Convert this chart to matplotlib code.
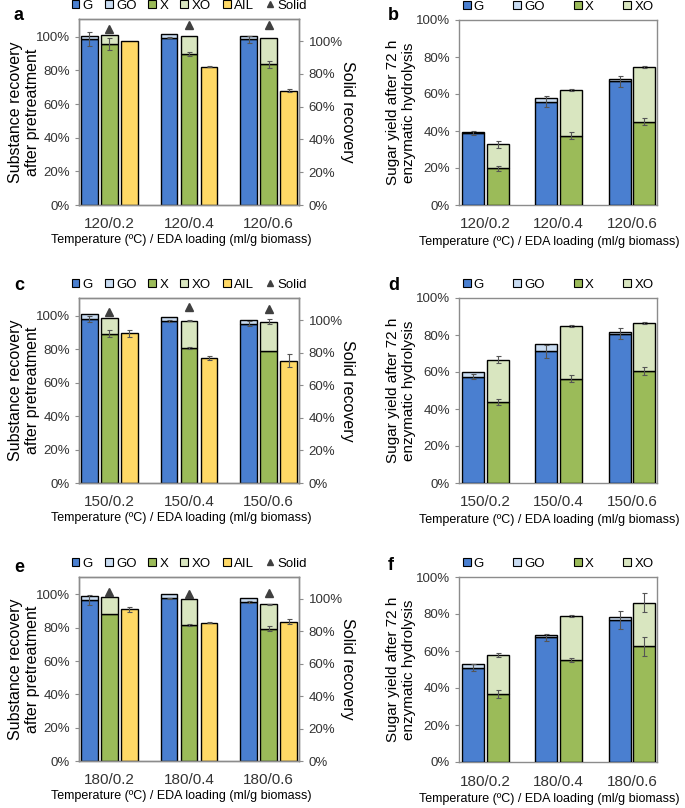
import numpy as np
import matplotlib.pyplot as plt
from matplotlib.patches import Patch
from matplotlib.lines import Line2D
from matplotlib.ticker import PercentFormatter

plt.rcParams['font.family'] = ['Liberation Sans', 'DejaVu Sans']

# colours
C_G = '#4a7fd0'
C_GO = '#c9dcf2'
C_X = '#9bbb59'
C_XO = '#d9e6c0'
C_AIL = '#ffd966'

XLABEL = 'Temperature (ºC) / EDA loading (ml/g biomass)'

# ---- pretreatment recovery (panels a, c, e) ----
cats_120 = ['120/0.2', '120/0.4', '120/0.6']
cats_150 = ['150/0.2', '150/0.4', '150/0.6']
cats_180 = ['180/0.2', '180/0.4', '180/0.6']

rec_G_120 = [98.5, 99.4, 98.5]
rec_GO_120 = [1.9, 2.4, 2.1]
rec_X_120 = [95.7, 89.7, 83.6]
rec_XO_120 = [5.3, 10.7, 15.4]
rec_AIL_120 = [97.6, 82.0, 67.9]
solid_120 = [107.6, 109.8, 110.0]
rec_errG_120 = [4, 0.3, 2]
rec_errX_120 = [3.5, 1, 2]
rec_errXO_120 = [0, 0, 0]
rec_errAIL_120 = [0, 0.3, 1]

rec_G_150 = [98.0, 96.6, 95.0]
rec_GO_150 = [2.8, 2.4, 2.4]
rec_X_150 = [89.1, 80.8, 78.8]
rec_XO_150 = [9.7, 16.2, 17.6]
rec_AIL_150 = [89.3, 74.7, 73.1]
solid_150 = [105.1, 107.9, 106.5]
rec_errG_150 = [2, 0.5, 1.5]
rec_errX_150 = [2, 0.5, 0]
rec_errXO_150 = [0, 0.5, 1.5]
rec_errAIL_150 = [2, 1, 4]

rec_G_180 = [96.6, 97.6, 95.4]
rec_GO_180 = [2.2, 2.4, 2.2]
rec_X_180 = [88.0, 81.7, 79.3]
rec_XO_180 = [10.4, 15.5, 14.7]
rec_AIL_180 = [91.2, 83.1, 83.5]
solid_180 = [104.5, 103.1, 103.5]
rec_errG_180 = [3, 0.5, 0.5]
rec_errX_180 = [0, 0.5, 1.5]
rec_errXO_180 = [0, 0, 0.5]
rec_errAIL_180 = [1.5, 0.5, 1.5]

# ---- sugar yield (panels b, d, f) ----
yld_G_120 = [39.1, 55.9, 67.0]
yld_GO_120 = [0.3, 2.1, 0.9]
yld_X_120 = [19.8, 37.5, 45.0]
yld_XO_120 = [13.0, 24.5, 29.6]
yld_errG_120 = [1, 3, 3]
yld_errX_120 = [1.5, 2, 2]
yld_errXO_120 = [2, 0.5, 0.5]

yld_G_150 = [57.5, 71.1, 80.8]
yld_GO_150 = [2.5, 4.1, 0.6]
yld_X_150 = [43.9, 56.4, 60.6]
yld_XO_150 = [22.8, 28.6, 25.8]
yld_errG_150 = [1.5, 3.5, 3]
yld_errX_150 = [1.5, 2, 2]
yld_errXO_150 = [2, 0.5, 0.5]

yld_G_180 = [51.0, 67.4, 76.8]
yld_GO_180 = [1.8, 1.2, 1.6]
yld_X_180 = [36.8, 55.1, 62.5]
yld_XO_180 = [21.0, 23.6, 23.6]
yld_errG_180 = [2, 2, 5]
yld_errX_180 = [2, 1, 5]
yld_errXO_180 = [1, 0.5, 5]

W, H = 685, 808
fig = plt.figure(figsize=(W / 100, H / 100), dpi=100)


def px_axes(x0, y0, x1, y1):
    return fig.add_axes([x0 / W, 1 - y1 / H, (x1 - x0) / W, (y1 - y0) / H])


def style_axes(ax):
    for s in ax.spines.values():
        s.set_color('#8c8c8c')
        s.set_linewidth(1.0)
    ax.tick_params(axis='both', colors='#8c8c8c', labelcolor='#333333',
                   labelsize=9.5, length=3, width=0.8)
    ax.tick_params(axis='x', length=0, labelsize=11, pad=9)


def errs(ax, x, top, err):
    e = np.array(err, dtype=float)
    m = e > 0
    if m.any():
        ax.errorbar(np.asarray(x)[m], np.asarray(top)[m], yerr=e[m], fmt='none',
                    ecolor='#555555', elinewidth=0.8, capsize=1.8, capthick=0.8, zorder=5)


def recovery_panel(y0, y1, letter, ly, cats, G, GO, X, XO, AIL, solid,
                   eG, eX, eXO, eAIL):
    ax = px_axes(79, y0, 299, y1)
    x = np.arange(len(cats))
    w, d = 0.21, 0.25
    G, GO, X, XO, AIL = map(np.array, (G, GO, X, XO, AIL))
    kw = dict(width=w, edgecolor='black', linewidth=1.0, zorder=3)
    ax.bar(x - d, G, color=C_G, **kw)
    ax.bar(x - d, GO, bottom=G, color=C_GO, **kw)
    ax.bar(x, X, color=C_X, **kw)
    ax.bar(x, XO, bottom=X, color=C_XO, **kw)
    ax.bar(x + d, AIL, color=C_AIL, **kw)
    errs(ax, x - d, G, eG)
    errs(ax, x, X, eX)
    errs(ax, x, X + XO, eXO)
    errs(ax, x + d, AIL, eAIL)
    ax.set_xlim(-0.38, 2.38)
    ax.set_ylim(0, 110.5)
    ax.set_yticks(np.arange(0, 101, 20))
    ax.yaxis.set_major_formatter(PercentFormatter(decimals=0))
    ax.set_xticks(x)
    ax.set_xticklabels(cats)
    style_axes(ax)
    ax.set_ylabel('Substance recovery\nafter pretreatment', fontsize=11.5)
    ax.yaxis.set_label_coords(-0.175, 0.5)
    ax.set_xlabel(XLABEL, fontsize=9)
    ax.xaxis.set_label_coords(0.464, -0.155)

    ax2 = ax.twinx()
    ax2.plot(x, solid, linestyle='none', marker='^', markersize=6,
             color='#404040', zorder=6)
    ax2.set_ylim(0, 113.5)
    ax2.set_yticks(np.arange(0, 101, 20))
    ax2.yaxis.set_major_formatter(PercentFormatter(decimals=0))
    style_axes(ax2)
    ax2.tick_params(axis='y', labelsize=9.5, pad=4)
    ax2.set_ylabel('Solid recovery', fontsize=11.5, rotation=270, labelpad=9)

    handles = [Patch(facecolor=c, edgecolor='black', linewidth=0.8)
               for c in (C_G, C_GO, C_X, C_XO, C_AIL)]
    handles.append(Line2D([], [], linestyle='none', marker='^', color='#404040',
                          markersize=5))
    ax.legend(handles, ['G', 'GO', 'X', 'XO', 'AIL', 'Solid'], ncol=6,
              loc='lower center', bbox_to_anchor=(0.5, 1.0), frameon=False,
              fontsize=9.5, handlelength=0.6, handleheight=0.6,
              handletextpad=0.25, columnspacing=0.9, borderaxespad=0.15)
    fig.text(14 / W, 1 - ly / H, letter, fontsize=13, fontweight='bold',
             ha='left', va='center')


def yield_panel(y0, y1, letter, ly, cats, G, GO, X, XO, eG, eX, eXO):
    ax = px_axes(459, y0, 657, y1)
    x = np.arange(len(cats))
    w, d = 0.30, 0.167
    G, GO, X, XO = map(np.array, (G, GO, X, XO))
    kw = dict(width=w, edgecolor='black', linewidth=1.0, zorder=3)
    ax.bar(x - d, G, color=C_G, **kw)
    ax.bar(x - d, GO, bottom=G, color=C_GO, **kw)
    ax.bar(x + d, X, color=C_X, **kw)
    ax.bar(x + d, XO, bottom=X, color=C_XO, **kw)
    errs(ax, x - d, G, eG)
    errs(ax, x + d, X, eX)
    errs(ax, x + d, X + XO, eXO)
    ax.set_xlim(-0.36, 2.34)
    ax.set_ylim(0, 100)
    ax.set_yticks(np.arange(0, 101, 20))
    ax.yaxis.set_major_formatter(PercentFormatter(decimals=0))
    ax.set_xticks(x)
    ax.set_xticklabels(cats)
    style_axes(ax)
    ax.set_ylabel('Sugar yield after 72 h\nenzymatic hydrolysis', fontsize=11)
    ax.yaxis.set_label_coords(-0.215, 0.5)
    ax.set_xlabel(XLABEL, fontsize=9)
    ax.xaxis.set_label_coords(0.455, -0.165)
    handles = [Patch(facecolor=c, edgecolor='black', linewidth=0.8)
               for c in (C_G, C_GO, C_X, C_XO)]
    ax.legend(handles, ['G', 'GO', 'X', 'XO'], ncol=4, loc='lower center',
              bbox_to_anchor=(0.5, 1.0), frameon=False, fontsize=9.5,
              handlelength=0.6, handleheight=0.6, handletextpad=0.25,
              columnspacing=2.2, borderaxespad=0.15)
    fig.text(388 / W, 1 - ly / H, letter, fontsize=13, fontweight='bold',
             ha='left', va='center')


recovery_panel(19, 205, 'a', 15, cats_120, rec_G_120, rec_GO_120, rec_X_120,
               rec_XO_120, rec_AIL_120, solid_120, rec_errG_120, rec_errX_120,
               rec_errXO_120, rec_errAIL_120)
recovery_panel(298, 483, 'c', 285, cats_150, rec_G_150, rec_GO_150, rec_X_150,
               rec_XO_150, rec_AIL_150, solid_150, rec_errG_150, rec_errX_150,
               rec_errXO_150, rec_errAIL_150)
recovery_panel(577, 761, 'e', 567, cats_180, rec_G_180, rec_GO_180, rec_X_180,
               rec_XO_180, rec_AIL_180, solid_180, rec_errG_180, rec_errX_180,
               rec_errXO_180, rec_errAIL_180)

yield_panel(20, 205, 'b', 15, cats_120, yld_G_120, yld_GO_120, yld_X_120,
            yld_XO_120, yld_errG_120, yld_errX_120, yld_errXO_120)
yield_panel(298, 483, 'd', 285, cats_150, yld_G_150, yld_GO_150, yld_X_150,
            yld_XO_150, yld_errG_150, yld_errX_150, yld_errXO_150)
yield_panel(577, 762, 'f', 565, cats_180, yld_G_180, yld_GO_180, yld_X_180,
            yld_XO_180, yld_errG_180, yld_errX_180, yld_errXO_180)

fig.savefig('out.png', dpi=100, facecolor='white')
